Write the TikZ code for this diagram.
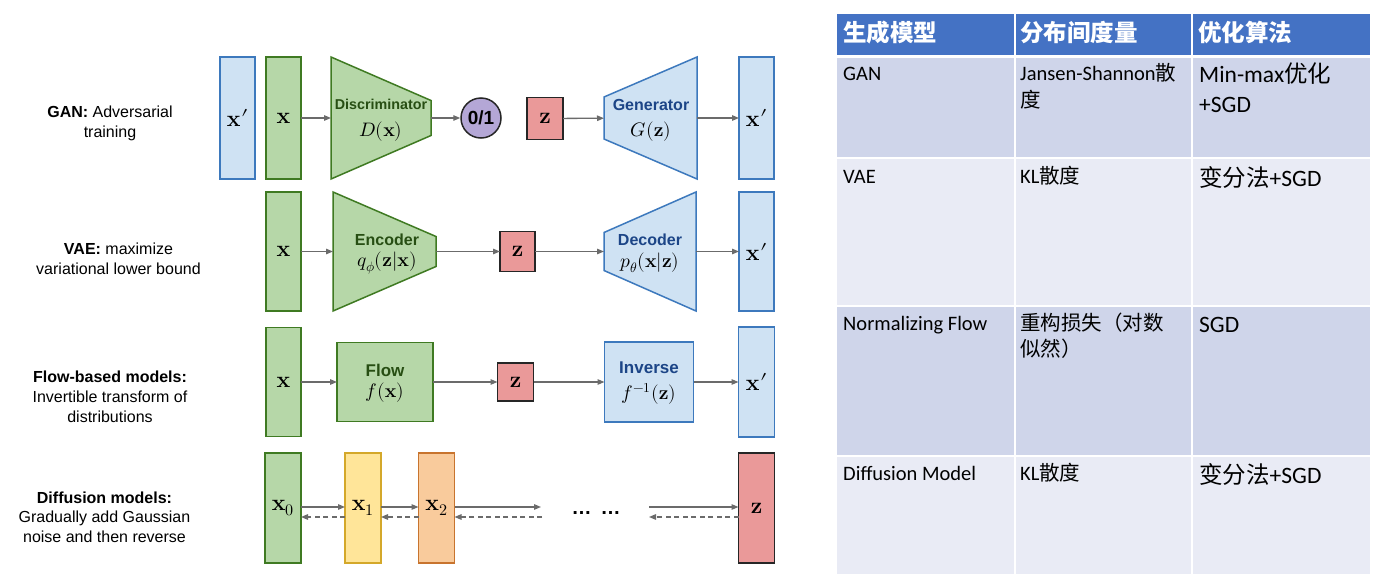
\documentclass[tikz,border=0pt]{standalone}
\usepackage{fontspec}
\usepackage{amsmath}
\usepackage{unicode-math}
\setmathfont{latinmodern-math.otf}
\usetikzlibrary{arrows.meta,calc}
\newfontfamily\arialf{Liberation Sans}
\newfontfamily\calf{Carlito}
\newfontfamily\cjkf{Noto Sans CJK SC}
\newcommand\myxp{\mathbf{x}\mkern0.5mu\prime}
\definecolor{gF}{HTML}{B6D7A8}
\definecolor{gD}{HTML}{3F7A22}
\definecolor{gT}{HTML}{274E13}
\definecolor{bF}{HTML}{CFE2F3}
\definecolor{bD}{HTML}{3D79BD}
\definecolor{bT}{HTML}{1C4587}
\definecolor{rF}{HTML}{EA9999}
\definecolor{rD}{HTML}{262626}
\definecolor{yF}{HTML}{FFE599}
\definecolor{yD}{HTML}{D4A82A}
\definecolor{oF}{HTML}{F9CB9C}
\definecolor{oD}{HTML}{C8742E}
\definecolor{pF}{HTML}{B4A7D6}
\definecolor{arrC}{HTML}{6B6B6B}
\definecolor{hdrC}{HTML}{4472C4}
\definecolor{rowA}{HTML}{CFD5EA}
\definecolor{rowB}{HTML}{E9EBF5}
\begin{document}
\begin{tikzpicture}[x=1pt,y=-1pt,
  box/.style={draw, line width=1.5pt, inner sep=0pt, outer sep=0pt, font=\fontsize{23}{26}\selectfont},
  gbox/.style={box, fill=gF, draw=gD},
  bbox/.style={box, fill=bF, draw=bD},
  rbox/.style={box, fill=rF, draw=rD},
  ybox/.style={box, fill=yF, draw=yD},
  obox/.style={box, fill=oF, draw=oD},
  shp/.style={inner sep=0pt, outer sep=0pt},
  gshape/.style={fill=gF, draw=gD, line width=1.5pt},
  bshape/.style={fill=bF, draw=bD, line width=1.5pt},
  arr/.style={draw=arrC, line width=1.3pt, -{Triangle[length=7pt,width=5.5pt]}},
  darr/.style={arr, dash pattern=on 5pt off 3.5pt},
  side/.style={align=center, inner sep=0pt, font=\arialf\fontsize{16}{19.6}\selectfont},
  shg/.style={inner sep=0pt, text=gT, font=\arialf\bfseries\fontsize{16}{18}\selectfont},
  shb/.style={inner sep=0pt, text=bT, font=\arialf\bfseries\fontsize{16}{18}\selectfont},
  mth/.style={inner sep=0pt, font=\fontsize{19.5}{22}\selectfont},
  cell/.style={anchor=base west, inner sep=0pt, font=\calf\fontsize{20.5}{24}\selectfont},
  cellb/.style={anchor=base west, inner sep=0pt, font=\calf\fontsize{23.5}{28}\selectfont},
  hdr/.style={anchor=base west, inner sep=0pt, text=white, font=\cjkf\bfseries\fontsize{23.5}{28}\selectfont}
]
\useasboundingbox (0,0) rectangle (1390,584);
\fill[white] (0,0) rectangle (1390,584);

% ---------- left labels ----------
\node[side] (lgan) at (110,123.4) {\textbf{GAN:} Adversarial\\training};
\node[side] (lvae) at (118.5,258.5) {\textbf{VAE:} maximize\\variational lower bound};
\node[side] (lflow) at (110,396.7) {\textbf{Flow-based models:}\\Invertible transform of\\distributions};
\node[side] (ldiff) at (104.5,517) {\textbf{Diffusion models:}\\Gradually add Gaussian\\noise and then reverse};

% ---------- GAN ----------
\node[bbox, minimum width=35pt, minimum height=122pt] (gxp) at (237.5,118) {$\myxp$};
\node[gbox, minimum width=35pt, minimum height=122pt] (gx) at (283.5,118) {$\mathbf{x}$};
\node[shp, minimum width=100pt, minimum height=122pt] (disc) at (381,118) {};
\draw[gshape] (disc.north west) -- ([yshift=17.5pt]disc.east) -- ([yshift=-17.5pt]disc.east) -- (disc.south west) -- cycle;
\node[inner sep=0pt, text=gT, font=\arialf\bfseries\fontsize{14.3}{16}\selectfont] (disct) at (381,104.5) {Discriminator};
\node[mth] (discm) at (381,132) {$D(\mathbf{x})$};
\node[circle, draw=rD, fill=pF, line width=1.5pt, minimum size=40pt, inner sep=0pt, font=\arialf\bfseries\fontsize{19}{22}\selectfont] (c01) at (481,118) {0/1};
\node[rbox, minimum width=36pt, minimum height=42pt] (gz) at (545,118.5) {$\mathbf{z}$};
\node[shp, minimum width=93pt, minimum height=122pt] (gen) at (650.5,118) {};
\draw[bshape] ([yshift=21pt]gen.west) -- (gen.north east) -- (gen.south east) -- ([yshift=-21pt]gen.west) -- cycle;
\node[shb] (gent) at (651,105) {Generator};
\node[mth] (genm) at (651,132) {$G(\mathbf{z})$};
\node[bbox, minimum width=35pt, minimum height=122pt] (gxo) at (756.5,118) {$\myxp$};
\draw[arr] (gx) -- (disc);
\draw[arr] (disc) -- (c01);
\draw[arr] (gz) -- (gen);
\draw[arr] (gen) -- (gxo);

% ---------- VAE ----------
\node[gbox, minimum width=35pt, minimum height=119pt] (vx) at (283.5,251.5) {$\mathbf{x}$};
\node[shp, minimum width=103pt, minimum height=119pt] (enc) at (384.5,251.5) {};
\draw[gshape] (enc.north west) -- ([yshift=15pt]enc.east) -- ([yshift=-15pt]enc.east) -- (enc.south west) -- cycle;
\node[shg] (enct) at (387,239.5) {Encoder};
\node[mth] (encm) at (387,263) {$q_\phi(\mathbf{z}|\mathbf{x})$};
\node[rbox, minimum width=35pt, minimum height=40pt] (vz) at (517.5,251.5) {$\mathbf{z}$};
\node[shp, minimum width=92pt, minimum height=119pt] (dec) at (650,251.5) {};
\draw[bshape] ([yshift=19pt]dec.west) -- (dec.north east) -- (dec.south east) -- ([yshift=-19pt]dec.west) -- cycle;
\node[shb] (dect) at (650,240) {Decoder};
\node[mth] (decm) at (650,263) {$p_\theta(\mathbf{x}|\mathbf{z})$};
\node[bbox, minimum width=35pt, minimum height=119pt] (vxo) at (756.5,251.5) {$\myxp$};
\draw[arr] (vx) -- (enc);
\draw[arr] (enc) -- (vz);
\draw[arr] (vz) -- (dec);
\draw[arr] (dec) -- (vxo);

% ---------- Flow ----------
\node[gbox, minimum width=35pt, minimum height=109pt] (fx) at (283.5,382) {$\mathbf{x}$};
\node[gbox, minimum width=96pt, minimum height=79pt] (flw) at (385,382) {};
\node[shg, font=\arialf\bfseries\fontsize{17}{19}\selectfont] (flwt) at (385,370) {Flow};
\node[mth] (flwm) at (385,393) {$f(\mathbf{x})$};
\node[rbox, minimum width=36pt, minimum height=38pt] (fz) at (515.5,382) {$\mathbf{z}$};
\node[bbox, minimum width=89pt, minimum height=80pt] (inv) at (649,382) {};
\node[shb, font=\arialf\bfseries\fontsize{17}{19}\selectfont] (invt) at (649,368) {Inverse};
\node[mth] (invm) at (649,394) {$f^{-1}(\mathbf{z})$};
\node[bbox, minimum width=36pt, minimum height=110pt] (fxo) at (756.5,382) {$\myxp$};
\draw[arr] (fx) -- (flw);
\draw[arr] (flw) -- (fz);
\draw[arr] (fz) -- (inv);
\draw[arr] (inv) -- (fxo);

% ---------- Diffusion ----------
\node[gbox, minimum width=36pt, minimum height=110pt] (d0) at (283,508) {$\mathbf{x}_0$};
\node[ybox, minimum width=36pt, minimum height=110pt] (d1) at (363,508) {$\mathbf{x}_1$};
\node[obox, minimum width=36pt, minimum height=110pt] (d2) at (436.5,508) {$\mathbf{x}_2$};
\node[rbox, minimum width=36pt, minimum height=110pt] (dz) at (756.5,508) {$\mathbf{z}$};
\coordinate (sL) at (541,507);
\coordinate (sR) at (649,507);
\coordinate (dL) at (542,517);
\coordinate (dR) at (649,517);
\node[inner sep=0pt, font=\arialf\bfseries\fontsize{20}{24}\selectfont] (dots) at (596,513) {…\hspace{9pt}…};
\draw[arr] ([yshift=1pt]d0.east) -- ([yshift=1pt]d1.west);
\draw[arr] ([yshift=1pt]d1.east) -- ([yshift=1pt]d2.west);
\draw[arr] ([yshift=1pt]d2.east) -- (sL);
\draw[arr] (sR) -- ([yshift=1pt]dz.west);
\draw[darr] ([yshift=-9pt]d1.west) -- ([yshift=-9pt]d0.east);
\draw[darr] ([yshift=-9pt]d2.west) -- ([yshift=-9pt]d1.east);
\draw[darr] (dL) -- ([yshift=-9pt]d2.east);
\draw[darr] ([yshift=-9pt]dz.west) -- (dR);

% ---------- Table ----------
\fill[hdrC] (837,14) rectangle (1370,56);
\fill[rowA] (837,56) rectangle (1370,158);
\fill[rowB] (837,158) rectangle (1370,306);
\fill[rowA] (837,306) rectangle (1370,456);
\fill[rowB] (837,456) rectangle (1370,574);
\draw[white, line width=3pt] (837,56) -- (1370,56);
\draw[white, line width=1.5pt] (837,158) -- (1370,158);
\draw[white, line width=1.5pt] (837,306) -- (1370,306);
\draw[white, line width=1.5pt] (837,456) -- (1370,456);
\draw[white, line width=1.5pt] (1015,14) -- (1015,574);
\draw[white, line width=1.5pt] (1192,14) -- (1192,574);

\node[hdr] (h1) at (843,41.5) {生成模型};
\node[hdr] (h2) at (1020,41.5) {分布间度量};
\node[hdr] (h3) at (1198,41.5) {优化算法};

\node[cell] (r1a) at (843,80) {GAN};
\node[cell] (r1b) at (1020,80) {Jansen-Shannon{\cjkf 散}};
\node[cell] (r1b2) at (1020,107) {\cjkf 度};
\node[cellb] (r1c) at (1199,82) {Min-max{\cjkf 优化}};
\node[cellb] (r1c2) at (1199,112) {+SGD};

\node[cell] (r2a) at (843,183) {VAE};
\node[cell] (r2b) at (1020,183) {KL{\cjkf 散度}};
\node[cellb] (r2c) at (1199,186) {{\cjkf 变分法}+SGD};

\node[cell] (r3a) at (843,330) {Normalizing Flow};
\node[cell] (r3b) at (1020,330) {\cjkf 重构损失（对数};
\node[cell] (r3b2) at (1020,356) {\cjkf 似然）};
\node[cellb] (r3c) at (1199,332) {SGD};

\node[cell] (r4a) at (843,480) {Diffusion Model};
\node[cell] (r4b) at (1020,480) {KL{\cjkf 散度}};
\node[cellb] (r4c) at (1199,483) {{\cjkf 变分法}+SGD};
\end{tikzpicture}
\end{document}
